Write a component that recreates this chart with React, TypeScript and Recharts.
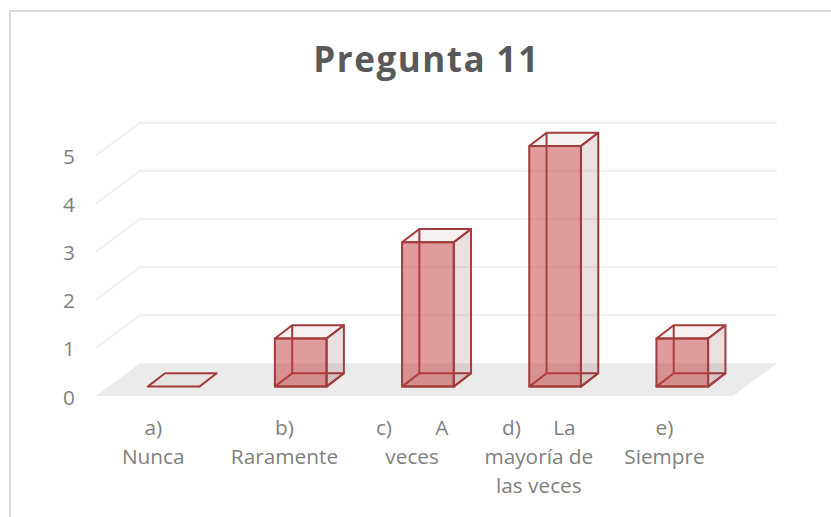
import React from 'react';
import { BarChart, Bar, CartesianGrid, XAxis, YAxis } from 'recharts';

const categories = ['a)\nNunca', 'b)\nRaramente', 'c)        A\nveces', 'd)      La\nmayoría de\nlas veces', 'e)\nSiempre'];
const values = [0, 1, 3, 5, 1];
const yTicks = [0, 1, 2, 3, 4, 5];

const chartData = categories.map((name, i) => ({ name, value: values[i] }));

const FONT = '"Open Sans", Lato, sans-serif';
const DEPTH_X = 17.3;
const DEPTH_Y = 13.3;
const EDGE = '#a33c3c';
const LABEL_SHIFT = [-20, -16, -15.5, -16, -17.5];

// Wall/floor perspective, relative to the front plane the bars stand on
const WallLine = (props: any) => {
  const { x1, x2, y1 } = props;
  const backL = x1 + 30.3;
  const backR = x2 + 31.4;
  const frontL = x1 - 13.7;
  const frontR = x2 - 12.6;
  const backY = y1 - 23.3;
  const frontY = y1 + 9.4;
  if (y1 > 380) {
    return <polygon points={`${frontL},${frontY} ${backL},${backY} ${backR},${backY} ${frontR},${frontY}`} fill="#ebebeb" />;
  }
  return (
    <polyline
      points={`${frontL},${frontY} ${backL},${backY} ${backR},${backY}`}
      fill="none"
      stroke="#f0f0f0"
      strokeWidth={2}
    />
  );
};

const Box3D = (props: any) => {
  const { x, y, width, height } = props;
  const l = x;
  const r = x + width;
  const t = y;
  const b = y + height;
  const bl = l + DEPTH_X;
  const br = r + DEPTH_X;
  const bt = t - DEPTH_Y;
  const bb = b - DEPTH_Y;
  const line = { stroke: EDGE, strokeWidth: 2, strokeLinejoin: 'round' as const };
  if (height < 0.5) {
    return <polygon points={`${l},${b} ${r},${b} ${br},${bb} ${bl},${bb}`} fill="#7a2f2f" fillOpacity={0.04} {...line} />;
  }
  return (
    <g>
      {/* back edges, seen through the faces */}
      <polygon points={`${l},${b} ${r},${b} ${br},${bb} ${bl},${bb}`} fill="#7a2f2f" fillOpacity={0.06} {...line} />
      <polyline points={`${bl},${bb} ${bl},${bt}`} fill="none" {...line} />
      {/* top and side */}
      <polygon points={`${l},${t} ${r},${t} ${br},${bt} ${bl},${bt}`} fill="#7a2f2f" fillOpacity={0.07} {...line} />
      <polygon points={`${r},${t} ${br},${bt} ${br},${bb} ${r},${b}`} fill="#7a2f2f" fillOpacity={0.15} {...line} />
      {/* front */}
      <rect x={l} y={t} width={width} height={height} fill="#c23a3a" fillOpacity={0.5} {...line} />
    </g>
  );
};

const XTick = (props: any) => {
  const { x, payload, index } = props;
  const lines = String(payload.value).split('\n');
  return (
    <text textAnchor="middle" fontFamily={FONT} fontSize={20.8} fill="#7f7f7f" style={{ whiteSpace: 'pre' }}>
      {lines.map((t, i) => (
        <tspan key={i} x={x + LABEL_SHIFT[index]} y={434.5 + i * 29}>{t}</tspan>
      ))}
    </text>
  );
};

const YTick = (props: any) => {
  const { y, payload } = props;
  return (
    <text x={69} y={y + 18} textAnchor="middle" fontFamily={FONT} fontSize={20.8} fill="#7f7f7f">
      {payload.value}
    </text>
  );
};

export default function App() {
  return (
    <div style={{ position: 'absolute', left: 0, top: 0, width: 831, height: 517, background: '#fff', overflow: 'hidden' }}>
      <div style={{ position: 'absolute', left: 9, top: 10, width: 830, height: 520, borderLeft: '2px solid #d9d9d9', borderTop: '2px solid #d9d9d9' }} />
      <div
        style={{
          position: 'absolute', left: 0, width: 853, top: 36, textAlign: 'center', lineHeight: '46px',
          fontFamily: FONT, fontWeight: 700, fontSize: 35, letterSpacing: 1.5, color: '#595959',
        }}
      >
        Pregunta 11
      </div>
      <div style={{ position: 'absolute', left: 0, top: 0 }}>
        <BarChart
          width={831}
          height={517}
          data={chartData}
          margin={{ top: 146, right: 85.4, bottom: 30.4, left: 49.7 }}
        >
          <CartesianGrid vertical={false} horizontal={WallLine} />
          <XAxis dataKey="name" height={100} axisLine={false} tickLine={false} interval={0} tick={XTick} />
          <YAxis width={60} domain={[0, 5]} ticks={yTicks} axisLine={false} tickLine={false} tick={YTick} />
          <Bar dataKey="value" barSize={51.7} shape={Box3D} isAnimationActive={false} />
        </BarChart>
      </div>
    </div>
  );
}
